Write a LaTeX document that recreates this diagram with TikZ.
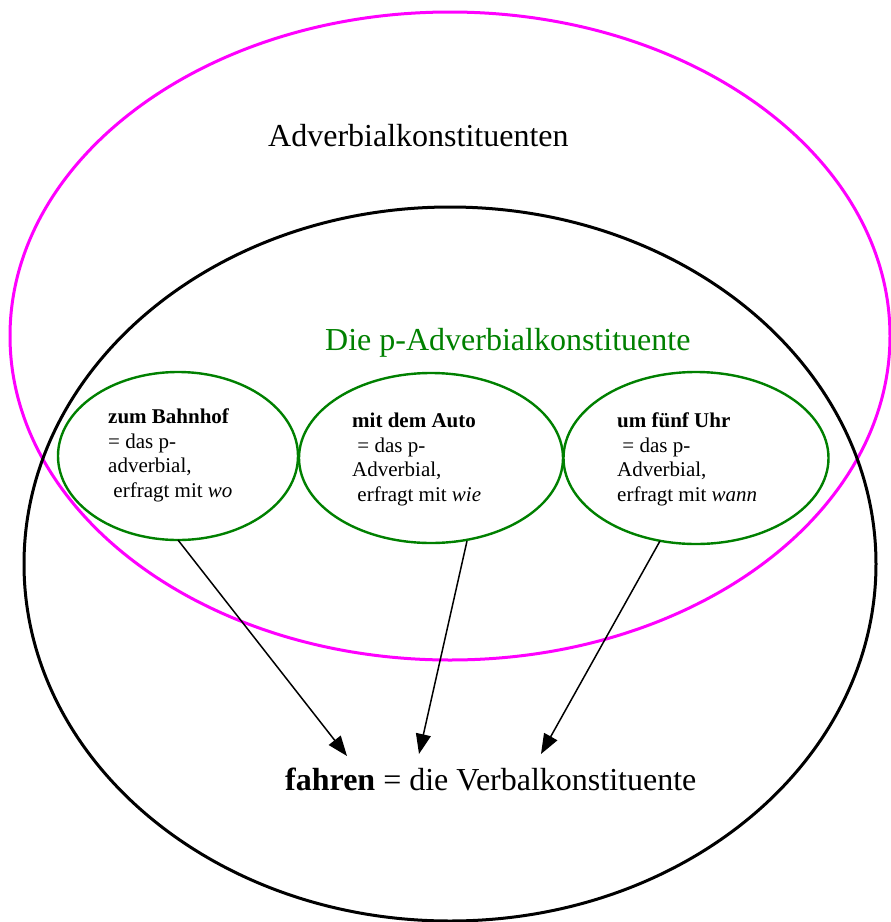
\documentclass[tikz,border=0pt]{standalone}
\usepackage{fontspec}
\setmainfont{Liberation Serif}
\usetikzlibrary{shapes.geometric,arrows.meta}
\definecolor{setpink}{RGB}{255,0,255}
\definecolor{setgreen}{RGB}{0,128,0}
\tikzset{
  bigset/.style={ellipse, draw, line width=3pt, inner sep=0pt},
  pset/.style={ellipse, draw=setgreen, line width=2.4pt, inner sep=0pt},
  bigtext/.style={anchor=base west, inner sep=0pt, font=\fontsize{32}{38}\selectfont},
  % multi-line labels: the base anchor sits on the last line
  smalltext/.style={anchor=base west, inner sep=0pt, align=left,
    font=\fontsize{21}{24.5}\selectfont},
  link/.style={line width=1.5pt, -{Triangle[length=20pt,width=15pt]}}
}
\begin{document}
\begin{tikzpicture}[x=1pt,y=-1pt]
\useasboundingbox (0,0) rectangle (891,922);
% outer sets
\node[bigset, draw=setpink, minimum width=880pt, minimum height=648pt] (adv) at (450,336) {};
\node[bigset, draw=black, minimum width=852pt, minimum height=714pt] (verb) at (450,564) {};
% three p-adverbials
\node[pset, minimum width=240pt, minimum height=168pt] (p1) at (178,456) {};
\node[pset, minimum width=264pt, minimum height=170pt] (p2) at (431,458) {};
\node[pset, minimum width=265pt, minimum height=172pt] (p3) at (696,458) {};
% labels
\node[bigtext] (tadv) at (268,146) {Adverbialkonstituenten};
\node[bigtext, text=setgreen] (tp) at (325,350) {Die p-Adverbialkonstituente};
\node[bigtext] (tverb) at (285,790) {\textbf{fahren} = die Verbalkonstituente};
\node[smalltext] (t1) at (108,497) {\textbf{zum Bahnhof}\\= das p-\\adverbial,\\\ erfragt mit \textit{wo}};
\node[smalltext] (t2) at (352,501) {\textbf{mit dem Auto}\\\ = das p-\\Adverbial,\\\ erfragt mit \textit{wie}};
\node[smalltext] (t3) at (617,501) {\textbf{um fünf Uhr}\\\ = das p-\\Adverbial,\\erfragt mit \textit{wann}};
% arrow ends
\coordinate (a1) at (178,540);
\coordinate (a2) at (467,541);
\coordinate (a3) at (660,541);
\coordinate (b1) at (347,756);
\coordinate (b2) at (419,754);
\coordinate (b3) at (541,754);
\draw[link] (a1) -- (b1);
\draw[link] (a2) -- (b2);
\draw[link] (a3) -- (b3);
\end{tikzpicture}
\end{document}
